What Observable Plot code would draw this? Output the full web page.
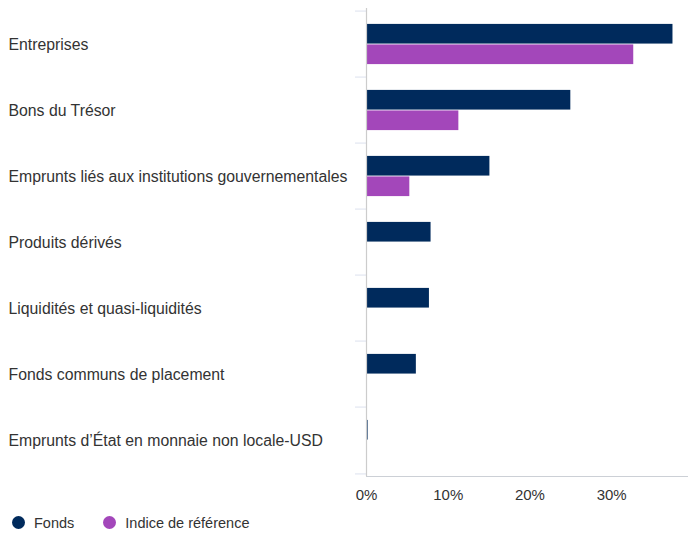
<!DOCTYPE html>
<html><head><meta charset="utf-8">
<script src="https://cdn.jsdelivr.net/npm/d3@7"></script>
<script src="https://cdn.jsdelivr.net/npm/@observablehq/plot@0.6"></script>
<style>
body{margin:0;background:#fff;font-family:"Liberation Sans",Arial,sans-serif;}
#chart svg{display:block;}
#legend{display:flex;align-items:center;height:25px;padding-left:12px;padding-top:2px;font-size:14.5px;color:#333;}
.item{display:flex;align-items:center;margin-right:29px;}
.dot{width:13px;height:13px;border-radius:50%;margin-right:9px;}
</style></head>
<body>
<div id="chart"></div>
<div id="legend"></div>
<script>
const categories = [
  "Entreprises",
  "Bons du Trésor",
  "Emprunts liés aux institutions gouvernementales",
  "Produits dérivés",
  "Liquidités et quasi-liquidités",
  "Fonds communs de placement",
  "Emprunts d’État en monnaie non locale-USD"
];
const fonds = [37.5, 25.0, 15.1, 7.9, 7.7, 6.1, 0.2];
const indice = [32.7, 11.3, 5.3, 0, 0.1, 0, 0];
const seriesNames = ["Fonds", "Indice de référence"];
const colors = ["#002a5c", "#a347ba"];
const xTicks = [0, 10, 20, 30];

const data = [];
categories.forEach((c, i) => {
  data.push({cat: c, series: seriesNames[0], value: fonds[i]});
  data.push({cat: c, series: seriesNames[1], value: indice[i]});
});

const W = 688, H = 508, mt = 8, mb = 32, ml = 366;
const bw = (H - mb - mt) / categories.length;
const barH = bw * 0.307;
const gapTop = bw / 2 - barH;

const plot = Plot.plot({
  width: W, height: H,
  marginTop: mt, marginBottom: mb, marginLeft: ml, marginRight: 0,
  style: {fontFamily: "Liberation Sans, Arial, sans-serif", fontSize: "15px", color: "#333"},
  x: {domain: [0, 39.4], axis: null, label: null},
  y: {domain: categories, padding: 0, axis: null, label: null},
  marks: [
    Plot.axisY({tickSize: 11, tickFormat: () => "", dy: -bw / 2, stroke: "#dce1ee", strokeWidth: 1, label: null}),
    Plot.axisY({ticks: [categories[categories.length - 1]], tickSize: 11, tickFormat: () => "", dy: bw / 2, stroke: "#dce1ee", label: null}),
    Plot.barX(data.filter(d => d.series === seriesNames[0]), {
      x: "value", y: "cat", fill: colors[0], insetTop: gapTop, insetBottom: bw - gapTop - barH
    }),
    Plot.barX(data.filter(d => d.series === seriesNames[1]), {
      x: "value", y: "cat", fill: colors[1], insetTop: gapTop + barH, insetBottom: bw - gapTop - 2 * barH
    }),
    Plot.ruleX([0], {stroke: "#ccc", strokeWidth: 1.2}),
    Plot.frame({anchor: "bottom", stroke: "#ccd0d6"}),
    Plot.text(categories, {y: d => d, frameAnchor: "left", dx: -(ml - 8), textAnchor: "start", fill: "#333", fontSize: 15.8}),
    Plot.axisX({ticks: xTicks, tickSize: 0, tickPadding: 13, tickFormat: d => d + "%", fontSize: 15, color: "#333", label: null})
  ]
});
document.getElementById("chart").appendChild(plot);

const lg = document.getElementById("legend");
seriesNames.forEach((s, i) => {
  const it = document.createElement("div");
  it.className = "item";
  it.innerHTML = `<span class="dot" style="background:${colors[i]}"></span><span>${s}</span>`;
  lg.appendChild(it);
});
</script>
</body></html>
